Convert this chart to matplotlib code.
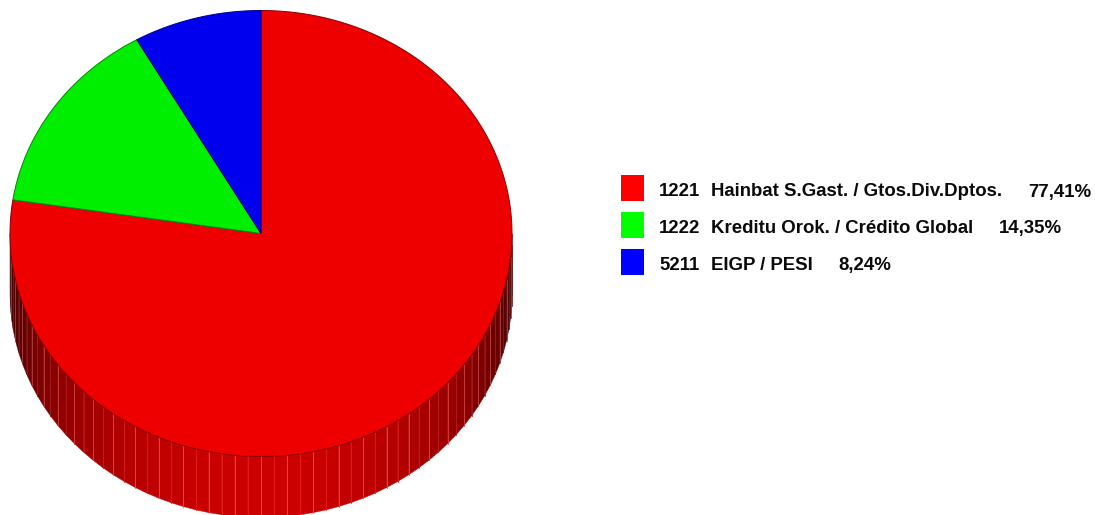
import numpy as np
import matplotlib
matplotlib.use('Agg')
import matplotlib.pyplot as plt
from matplotlib.patches import Polygon, Rectangle

# values from the legend
codes = ['1221', '1222', '5211']
names = ['Hainbat S.Gast. / Gtos.Div.Dptos.', 'Kreditu Orok. / Crédito Global', 'EIGP / PESI']
shares = [77.41, 14.35, 8.24]
share_labels = ['77,41%', '14,35%', '8,24%']
top_colors = ['#ee0000', '#00ee00', '#0000ee']
edge_colors = ['#8a0000', '#008a00', '#00008a']
key_colors = ['#ff0000', '#00ff00', '#0000ff']

plt.rcParams['font.family'] = ['Liberation Sans', 'DejaVu Sans']

fig = plt.figure(figsize=(10.95, 5.15), dpi=100)
ax = fig.add_axes([0, 0, 1, 1])
ax.set_xlim(0, 1095)
ax.set_ylim(515, 0)
ax.axis('off')

# pie geometry in pixels
cx, cy = 261, 233.5
rx, ry = 251, 223
depth = 61
step = 3

# side wall, dark at the edges and brightest near the front
for a in np.arange(90, 270, step):
    t = np.radians([a, a + step])
    xs = cx + rx * np.sin(t)
    ys = cy - ry * np.cos(t)
    front = np.sin(np.radians(a + step / 2 - 90))
    level = 0.24 + 0.56 * front ** 1.1
    col = (level, 0, 0)
    pts = [(xs[0], ys[0]), (xs[1], ys[1]), (xs[1], ys[1] + depth), (xs[0], ys[0] + depth)]
    ax.add_patch(Polygon(pts, closed=True, fc=col, ec=col, lw=0.3, zorder=2))
    # only every other seam catches the light
    seam = 0.26 if int(a / step) % 2 == 0 else 0.12
    edge = (min(level + seam, 1), seam, seam)
    ax.plot([xs[0], xs[0]], [ys[0], ys[0] + depth], color=edge, lw=0.6, zorder=3)

# top face, clockwise from 12 o'clock
start = 0.0
for share, col, ec in zip(shares, top_colors, edge_colors):
    end = start + share * 3.6
    t = np.radians(np.linspace(start, end, 300))
    xs = cx + rx * np.sin(t)
    ys = cy - ry * np.cos(t)
    pts = np.column_stack([np.r_[cx, xs], np.r_[cy, ys]])
    ax.add_patch(Polygon(pts, closed=True, fc=col, ec=ec, lw=0.7, zorder=4))
    start = end

# legend
key_y = [188, 225, 262]
base_y = [196.5, 233, 270]
for code, name, label, col, y, by in zip(codes, names, share_labels, key_colors, key_y, base_y):
    ax.add_patch(Rectangle((621, y - 13), 23, 26, fc=col, ec='none', zorder=5))
    ax.text(659, by, code, fontsize=13.4, fontweight='bold', va='baseline', color='#0a0a0a')
    t2 = ax.text(711, by, name, fontsize=13.4, fontweight='bold', va='baseline', color='#0a0a0a')
    fig.canvas.draw()
    bb = t2.get_window_extent()
    ax.text(bb.x1 + 26, by, label, fontsize=13.4, fontweight='bold', va='baseline', color='#0a0a0a')

fig.savefig('out.png', dpi=100)
